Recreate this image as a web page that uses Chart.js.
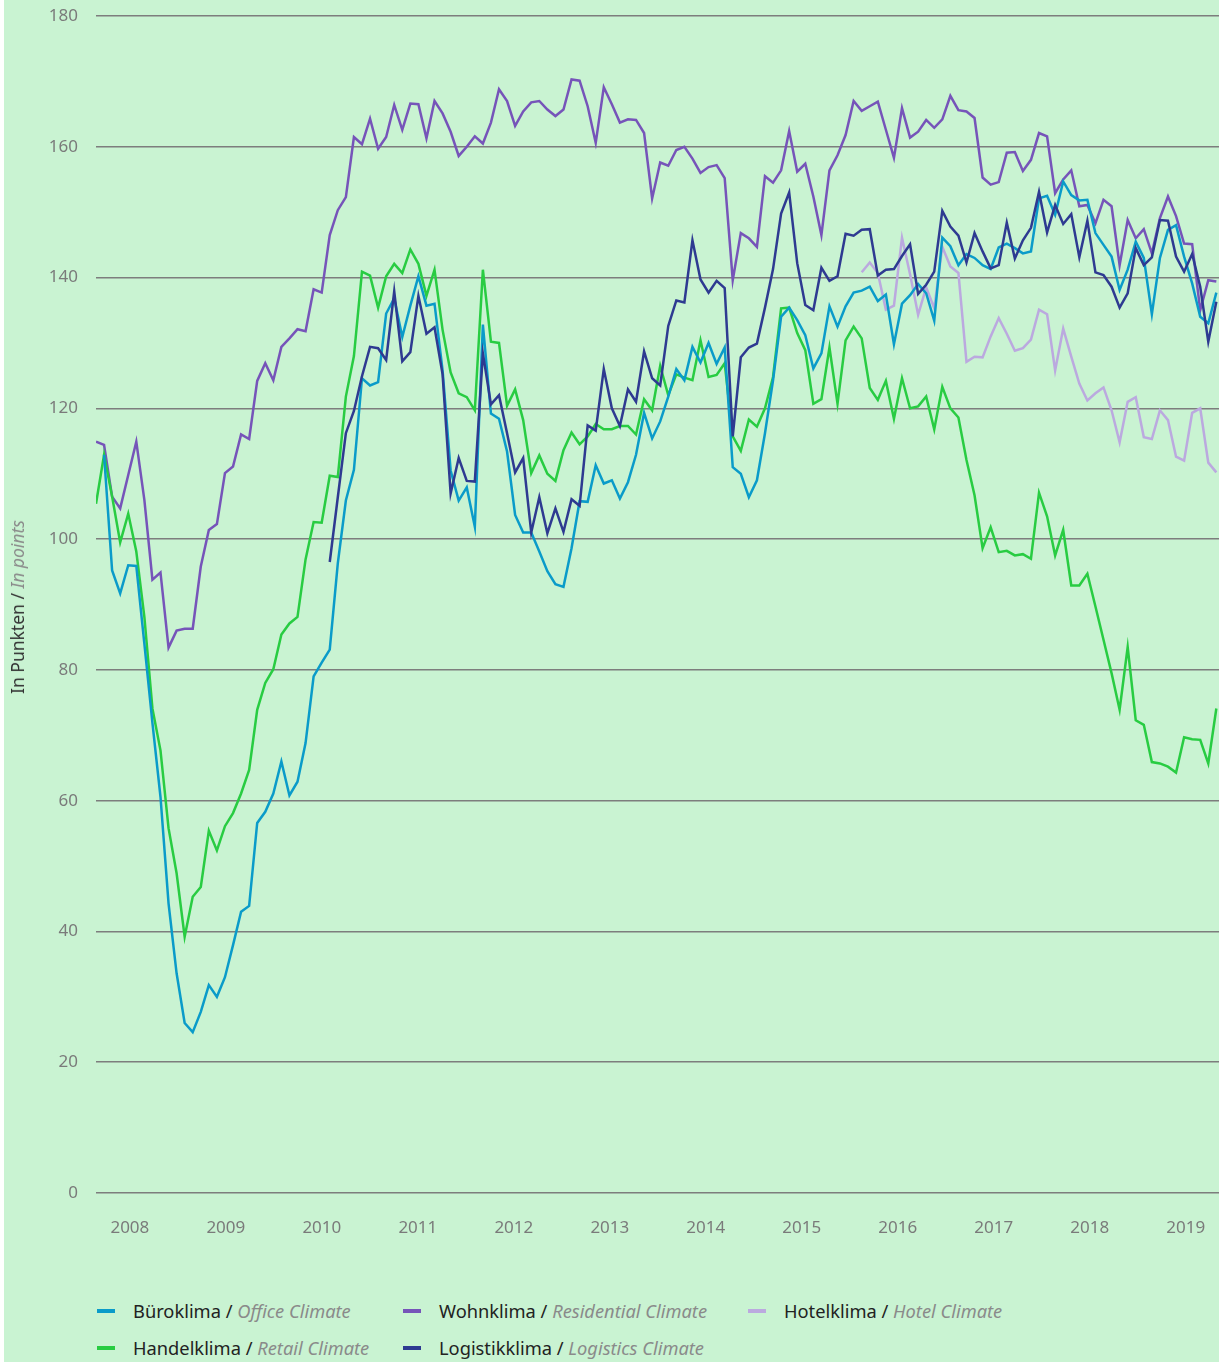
<!DOCTYPE html>
<html>
<head>
<meta charset="utf-8">
<script src="https://cdn.jsdelivr.net/npm/chart.js@4"></script>
<style>
body{margin:0;background:#fff;font-family:"Noto Sans",sans-serif;}
#panel{position:absolute;left:4px;top:0;width:1215px;height:1362px;background:#c9f3d2;overflow:hidden;}
#box{position:absolute;left:0;top:0;width:1215px;height:1262px;}
#ytitle{position:absolute;left:13px;top:607px;transform:translate(-50%,-50%) rotate(-90deg);white-space:nowrap;font-size:17.5px;color:#333;}
.it{font-style:italic;color:#8a8a8a;}
.item{position:absolute;white-space:nowrap;font-size:18.3px;color:#222;line-height:20px;}
.mark{position:absolute;width:18px;height:4px;}
</style>
</head>
<body>
<div id="panel">
    <div id="box"><canvas id="chart"></canvas></div>
    <div id="ytitle">In Punkten / <span class="it">In points</span></div>
    <div id="legend"></div>
</div>
<script>

// Jahresbeschriftung der x-Achse
const years = ["2008","2009","2010","2011","2012","2013","2014","2015","2016","2017","2018","2019"];

// Monatswerte, Index 0 = erster Monat im Bild
const bueroStart = 1;
const buero = [112.9,95.2,91.7,96.0,95.9,84.0,71.9,60.6,44.3,33.6,26.0,24.6,27.7,31.8,30.0,33.0,37.9,43.0,43.9,56.6,58.3,61.1,66.0,
    60.8,62.9,68.8,79.0,81.1,83.1,96.3,105.9,110.6,124.6,123.5,124.0,134.5,136.8,130.9,135.7,140.2,135.7,136.0,125.8,110.5,105.9,107.9,
    101.9,132.8,119.2,118.4,113.4,103.7,101.0,101.0,98.1,95.1,93.1,92.7,98.6,105.8,105.7,111.3,108.5,109.0,106.2,108.7,112.9,119.3,115.4,
    118.0,121.8,126.0,124.3,129.4,127.0,130.0,126.8,129.3,111.0,110.0,106.4,109.0,116.2,124.3,134.0,135.4,133.5,131.2,126.1,128.4,135.6,
    132.5,135.6,137.7,138.0,138.6,136.4,137.4,129.8,136.0,137.3,139.0,137.6,133.4,146.1,144.8,141.9,143.6,143.0,141.9,141.3,144.6,145.2,
    144.5,143.7,144.0,152.1,152.5,149.6,154.7,152.6,151.8,151.9,146.8,145.0,143.2,138.1,141.2,145.5,143.0,134.4,143.0,147.3,148.0,143.2,
    139.1,134.0,133.0,137.7];

const handelStart = 0;
const handel = [105.4,112.9,106.5,99.5,103.9,98.1,88.1,74.1,67.7,55.8,48.9,39.2,45.3,46.8,55.4,52.4,56.1,58.1,61.1,64.7,73.9,78.0,80.1,
    85.4,87.1,88.1,96.9,102.6,102.5,109.7,109.5,121.8,128.0,140.9,140.3,135.4,140.2,142.1,140.7,144.3,142.1,137.2,141.2,132.0,125.5,122.3,
    121.7,119.7,141.2,130.2,130.0,120.4,122.9,118.2,110.1,112.8,110.0,108.9,113.6,116.3,114.5,115.7,117.6,116.8,116.8,117.3,117.3,116.0,
    121.4,119.7,126.5,122.0,125.2,124.7,124.3,130.4,124.8,125.1,126.9,115.7,113.5,118.3,117.2,120.0,124.8,135.3,135.4,131.5,128.9,120.7,
    121.4,129.3,120.7,130.4,132.5,130.7,123.1,121.3,124.2,118.4,124.6,120.0,120.3,121.8,116.8,123.3,120.0,118.6,112.1,106.7,98.6,101.8,
    98.0,98.2,97.5,97.7,97.0,107.1,103.5,97.5,101.4,92.9,92.9,94.7,89.7,84.6,79.5,73.9,83.5,72.3,71.6,65.9,65.7,65.2,64.3,69.7,69.4,69.3,
    65.7,74.1];

const wohnStart = 0;
const wohn = [114.9,114.4,106.5,104.7,109.8,114.9,106.0,93.8,94.9,83.4,86.0,86.3,86.3,95.8,101.4,102.3,110.1,111.1,116.0,115.3,124.2,
    126.9,124.3,129.4,130.7,132.1,131.8,138.2,137.7,146.5,150.3,152.3,161.5,160.4,164.3,159.7,161.5,166.4,162.6,166.6,166.5,161.3,167.0,
    165.1,162.3,158.6,160.0,161.6,160.5,163.7,168.8,167.0,163.2,165.4,166.8,167.0,165.7,164.7,165.7,170.3,170.1,166.2,160.6,169.1,166.5,
    163.7,164.2,164.1,162.1,152.1,157.6,157.1,159.5,160.0,158.2,156.0,156.9,157.2,155.2,139.6,146.8,146.0,144.7,155.5,154.5,156.4,162.4,
    156.2,157.4,152.4,146.5,156.4,158.7,161.8,167.0,165.5,166.2,166.9,162.6,158.3,165.9,161.4,162.3,164.1,162.9,164.2,167.8,165.6,165.4,
    164.4,155.3,154.2,154.6,159.1,159.2,156.3,158.0,162.1,161.6,152.9,155.0,156.4,150.9,151.1,148.3,151.9,150.9,141.9,148.8,146.0,147.4,
    143.7,149.1,152.4,149.4,145.2,145.1,135.0,139.6,139.4];

const logistikStart = 29;
const logistik = [96.5,106.4,116.2,119.6,124.9,129.4,129.2,127.4,137.9,127.2,128.6,137.2,131.4,132.4,125.2,107.0,112.4,108.9,108.8,
    128.4,120.6,122.0,116.2,110.2,112.4,101.0,106.4,100.9,104.7,101.1,106.1,105.1,117.4,116.6,126.0,120.0,117.3,122.9,121.0,128.7,124.6,
    123.5,132.6,136.5,136.2,145.7,139.7,137.7,139.5,138.4,115.7,127.8,129.3,129.9,135.4,141.3,149.8,153.0,142.2,135.8,135.0,141.5,139.5,
    140.2,146.7,146.4,147.3,147.4,140.3,141.2,141.3,143.3,145.1,137.5,138.9,140.9,150.2,147.8,146.4,142.3,146.8,144.0,141.4,141.9,148.4,
    142.9,145.7,147.6,153.1,146.9,151.1,148.2,149.7,143.1,148.7,140.8,140.4,138.6,135.4,137.6,144.5,141.9,143.1,148.8,148.7,143.2,140.9,
    143.6,138.6,130.2,136.3];

const hotelStart = 95;
const hotel = [140.8,142.3,140.7,135.1,135.7,146.1,140.5,134.3,138.5,135.3,144.7,141.7,140.7,127.1,127.9,127.8,131.0,133.8,131.4,128.8,
    129.2,130.5,135.1,134.4,125.8,132.2,127.9,123.8,121.2,122.3,123.2,119.7,114.8,121.0,121.7,115.6,115.3,119.7,118.2,112.6,112.0,119.3,
    120.0,111.7,110.2];

// Reihen mit Farbe und Legendentext (deutsch / englisch)
const series = [
    {de:"Logistikklima", en:"Logistics Climate", color:"#2e3a91", start:logistikStart, values:logistik},
    {de:"Büroklima", en:"Office Climate", color:"#0a9bc9", start:bueroStart, values:buero},
    {de:"Handelklima", en:"Retail Climate", color:"#28cc42", start:handelStart, values:handel},
    {de:"Wohnklima", en:"Residential Climate", color:"#7654b9", start:wohnStart, values:wohn},
    {de:"Hotelklima", en:"Hotel Climate", color:"#bba9df", start:hotelStart, values:hotel}
];

const datasets = series.map(s => ({
    label:s.de,
    data:s.values.map((v, i) => ({x:s.start + i, y:v})),
    borderColor:s.color,
    backgroundColor:s.color,
    borderWidth:2.5,
    pointRadius:0,
    tension:0,
    fill:false
}));

const tickFont = {family:"Noto Sans", size:17};

new Chart(document.getElementById("chart"), {
    type:"line",
    data:{datasets:datasets},
    options:{
        responsive:true,
        maintainAspectRatio:false,
        animation:false,
        devicePixelRatio:1,
        layout:{padding:{top:16, right:0, bottom:0, left:0}},
        plugins:{
            legend:{display:false},
            tooltip:{enabled:false}
        },
        scales:{
            x:{
                type:"linear",
                min:0,
                max:139.33,
                grid:{display:false},
                border:{display:false},
                afterBuildTicks:scale => {
                    scale.ticks = years.map((y, k) => ({value:4.2 + k * 11.91}));
                },
                // Flächenbreite fest halten, keine Randabstände durch die Labels
                afterFit:scale => {
                    scale.height = 69;
                    scale.paddingLeft = 0;
                    scale.paddingRight = 0;
                },
                ticks:{
                    color:"#7a7a7a",
                    font:tickFont,
                    padding:17,
                    maxRotation:0,
                    autoSkip:false,
                    callback:(value, index) => years[index]
                }
            },
            y:{
                min:0,
                max:180,
                grid:{color:"#7d7d7d", lineWidth:1.5, drawTicks:false},
                border:{display:false},
                afterFit:scale => {
                    scale.width = 92;
                    scale.paddingTop = 0;
                    scale.paddingBottom = 0;
                },
                ticks:{
                    stepSize:20,
                    color:"#7a7a7a",
                    font:tickFont,
                    padding:18
                }
            }
        }
    }
});

// Legende unter dem Diagramm, zwei Zeilen
const legendPos = {
    "Büroklima":[93, 1311],
    "Wohnklima":[399, 1311],
    "Hotelklima":[744, 1311],
    "Handelklima":[93, 1348],
    "Logistikklima":[399, 1348]
};

const legend = document.getElementById("legend");

series.forEach(s => {
    const p = legendPos[s.de];
    const mark = document.createElement("div");
    mark.className = "mark";
    mark.style.left = p[0] + "px";
    mark.style.top = (p[1] - 2) + "px";
    mark.style.background = s.color;
    legend.appendChild(mark);

    const item = document.createElement("div");
    item.className = "item";
    item.style.left = (p[0] + 36) + "px";
    item.style.top = (p[1] - 10) + "px";
    item.innerHTML = `${s.de} / <span class="it">${s.en}</span>`;
    legend.appendChild(item);
});

</script>
</body>
</html>
